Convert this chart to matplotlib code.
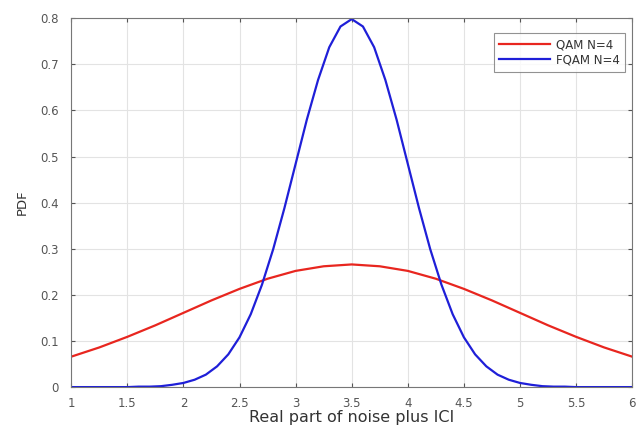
import matplotlib
matplotlib.use("Agg")
import matplotlib.pyplot as plt

plt.rcParams['font.family'] = ['DejaVu Sans']

# Red curve (QAM N=4), sampled every 0.25
x_qam = [1.0, 1.25, 1.5, 1.75, 2.0, 2.25, 2.5, 2.75, 3.0, 3.25, 3.5,
         3.75, 4.0, 4.25, 4.5, 4.75, 5.0, 5.25, 5.5, 5.75, 6.0]
y_qam = [0.066, 0.086, 0.109, 0.134, 0.161, 0.188, 0.213, 0.235, 0.252, 0.262, 0.266,
         0.262, 0.252, 0.235, 0.213, 0.188, 0.161, 0.134, 0.109, 0.086, 0.066]

# Blue curve (FQAM N=4), sampled every 0.1
x_fqam = [1.0, 1.1, 1.2, 1.3, 1.4, 1.5, 1.6, 1.7, 1.8, 1.9,
          2.0, 2.1, 2.2, 2.3, 2.4, 2.5, 2.6, 2.7, 2.8, 2.9,
          3.0, 3.1, 3.2, 3.3, 3.4, 3.5, 3.6, 3.7, 3.8, 3.9,
          4.0, 4.1, 4.2, 4.3, 4.4, 4.5, 4.6, 4.7, 4.8, 4.9,
          5.0, 5.1, 5.2, 5.3, 5.4, 5.5, 5.6, 5.7, 5.8, 5.9, 6.0]
y_fqam = [0.0, 0.0, 0.0, 0.0, 0.0, 0.0, 0.001, 0.001, 0.002, 0.005,
          0.009, 0.016, 0.027, 0.045, 0.071, 0.108, 0.158, 0.222, 0.299, 0.388,
          0.484, 0.580, 0.666, 0.737, 0.782, 0.798, 0.782, 0.737, 0.666, 0.580,
          0.484, 0.388, 0.299, 0.222, 0.158, 0.108, 0.071, 0.045, 0.027, 0.016,
          0.009, 0.005, 0.002, 0.001, 0.001, 0.0, 0.0, 0.0, 0.0, 0.0, 0.0]

series_labels = ['QAM N=4', 'FQAM N=4']
x_ticks = [1, 1.5, 2, 2.5, 3, 3.5, 4, 4.5, 5, 5.5, 6]
x_ticklabels = ['1', '1.5', '2', '2.5', '3', '3.5', '4', '4.5', '5', '5.5', '6']
y_ticks = [0, 0.1, 0.2, 0.3, 0.4, 0.5, 0.6, 0.7, 0.8]
y_ticklabels = ['0', '0.1', '0.2', '0.3', '0.4', '0.5', '0.6', '0.7', '0.8']

fig = plt.figure(figsize=(6.36, 4.33), dpi=100)
ax = fig.add_axes([0.112, 0.106, 0.882, 0.852])

ax.plot(x_qam, y_qam, color='#e8261f', lw=1.6, label=series_labels[0])
ax.plot(x_fqam, y_fqam, color='#1f1fd8', lw=1.6, label=series_labels[1])

ax.set_xlim(1, 6)
ax.set_ylim(0, 0.8)
ax.set_xticks(x_ticks)
ax.set_xticklabels(x_ticklabels)
ax.set_yticks(y_ticks)
ax.set_yticklabels(y_ticklabels)
ax.grid(True, color='#e3e3e3', lw=0.8)
ax.set_axisbelow(True)
ax.tick_params(direction='in', length=3, colors='#555555', labelsize=8.5,
               top=True, right=True, labelcolor='#555555')
ax.tick_params(axis='y', pad=9)
ax.tick_params(axis='x', pad=7)
for s in ax.spines.values():
    s.set_color('#777777')
    s.set_linewidth(0.8)

ax.set_xlabel('Real part of noise plus ICI', fontsize=11.5, color='#333333', labelpad=0)
ax.set_ylabel('PDF', fontsize=9.5, color='#333333', labelpad=8)

leg = ax.legend(loc='upper right', fontsize=8.5, frameon=True, fancybox=False,
                edgecolor='#777777', borderpad=0.45, handlelength=4.3,
                handletextpad=0.5, labelspacing=0.15, borderaxespad=0,
                bbox_to_anchor=(0.9875, 0.959))
leg.get_frame().set_linewidth(0.8)
for t in leg.get_texts():
    t.set_color('#333333')

fig.savefig('out.png', dpi=100)
